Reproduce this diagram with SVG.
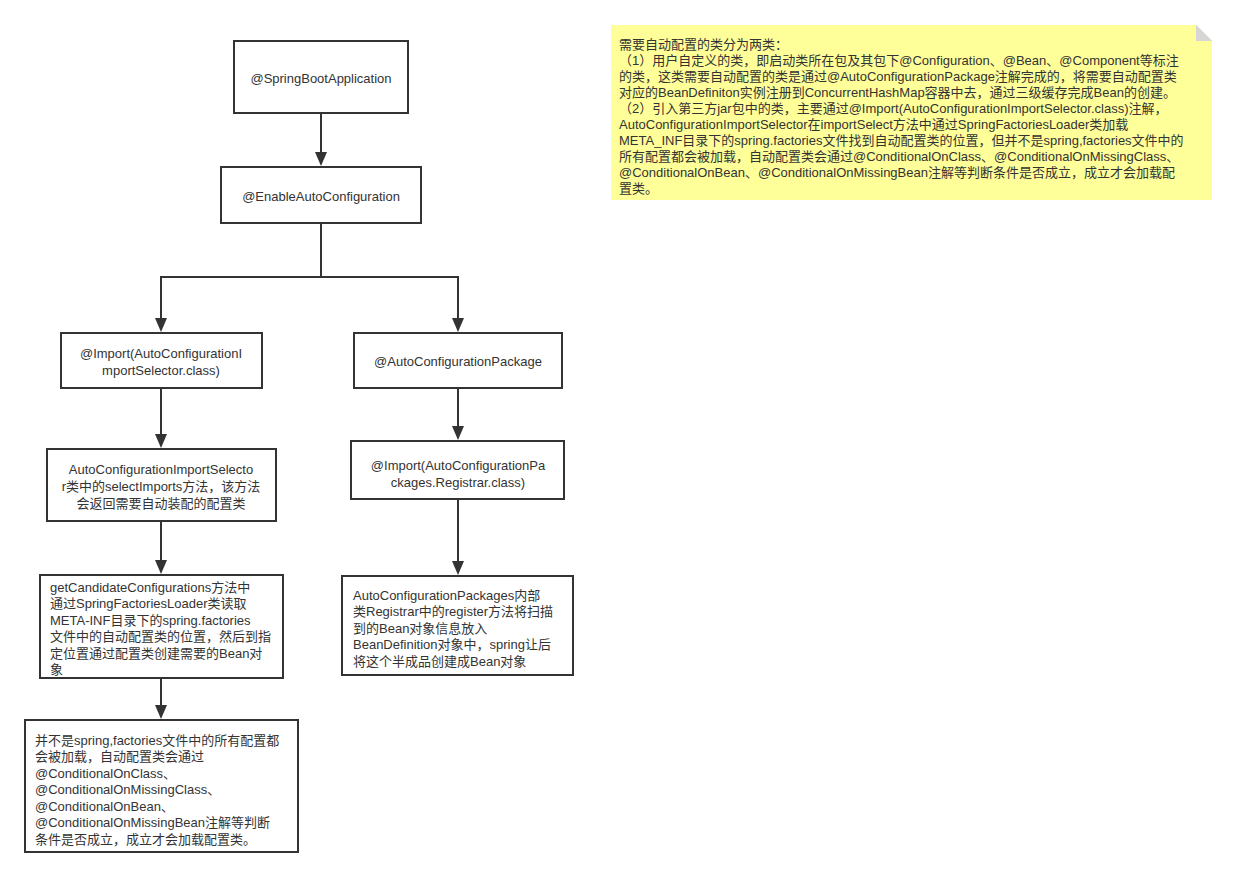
<svg xmlns="http://www.w3.org/2000/svg" width="1237" height="877" viewBox="0 0 1237 877">
<style>
.b{fill:#fff;stroke:#333;stroke-width:2}
text{font-family:"Liberation Sans","Noto Sans CJK SC",sans-serif;font-size:13px;fill:#333}
.c{text-anchor:middle}
.e{fill:none;stroke:#333;stroke-width:2}
</style>
<defs><marker id="a" viewBox="0 0 10 10" refX="9" refY="5" markerWidth="6" markerHeight="6" orient="auto" markerUnits="userSpaceOnUse"><path d="M0,0L10,5L0,10z" fill="#333"/></marker></defs>
<rect width="1237" height="877" fill="#fff"/>
<g id="connectors">
<path class="e" d="M321,113V164" marker-end="url(#a)" style="marker-end:none"/>
<path d="M315,152L321,166L327,152z" fill="#333"/>
<path class="e" d="M321,223V277H161V320M321,277H458V320"/>
<path d="M155,318L161,332L167,318z" fill="#333"/>
<path d="M452,318L458,332L464,318z" fill="#333"/>
<path class="e" d="M161,388V436"/><path d="M155,434L161,448L167,434z" fill="#333"/>
<path class="e" d="M161,521V562"/><path d="M155,560L161,574L167,560z" fill="#333"/>
<path class="e" d="M161,678V707"/><path d="M155,705L161,719L167,705z" fill="#333"/>
<path class="e" d="M458,388V428"/><path d="M452,426L458,440L464,426z" fill="#333"/>
<path class="e" d="M458,499V563"/><path d="M452,561L458,575L464,561z" fill="#333"/>
</g>
<g id="n1"><rect class="b" x="234" y="41" width="174" height="72"/><text class="c" x="321" y="83">@SpringBootApplication</text></g>
<g id="n2"><rect class="b" x="221" y="167" width="200" height="56"/><text class="c" x="321" y="201">@EnableAutoConfiguration</text></g>
<g id="n3"><rect class="b" x="61" y="333" width="201" height="55"/><text class="c" x="161" y="358">@Import(AutoConfigurationI</text><text class="c" x="161" y="375">mportSelector.class)</text></g>
<g id="n4"><rect class="b" x="354" y="333" width="208" height="55"/><text class="c" x="458" y="366">@AutoConfigurationPackage</text></g>
<g id="n5"><rect class="b" x="47" y="449" width="229" height="72"/><text class="c" x="161" y="474">AutoConfigurationImportSelecto</text><text class="c" x="161" y="491">r类中的selectImports方法，该方法</text><text class="c" x="161" y="508">会返回需要自动装配的配置类</text></g>
<g id="n6"><rect class="b" x="40" y="575" width="243" height="103"/>
<text x="50" y="592">getCandidateConfigurations方法中</text><text x="50" y="608">通过SpringFactoriesLoader类读取</text><text x="50" y="625">META-INF目录下的spring.factories</text><text x="50" y="641">文件中的自动配置类的位置，然后到指</text><text x="50" y="658">定位置通过配置类创建需要的Bean对</text><text x="50" y="674">象</text></g>
<g id="n7"><rect class="b" x="25" y="720" width="273" height="132"/>
<text x="35" y="745">并不是spring,factories文件中的所有配置都</text><text x="35" y="761">会被加载，自动配置类会通过</text><text x="35" y="778">@ConditionalOnClass、</text><text x="35" y="794">@ConditionalOnMissingClass、</text><text x="35" y="811">@ConditionalOnBean、</text><text x="35" y="827">@ConditionalOnMissingBean注解等判断</text><text x="35" y="844">条件是否成立，成立才会加载配置类。</text></g>
<g id="n8"><rect class="b" x="351" y="441" width="213" height="58"/><text class="c" x="458" y="470">@Import(AutoConfigurationPa</text><text class="c" x="458" y="487">ckages.Registrar.class)</text></g>
<g id="n9"><rect class="b" x="342" y="576" width="231" height="99"/>
<text x="353" y="600">AutoConfigurationPackages内部</text><text x="353" y="616">类Registrar中的register方法将扫描</text><text x="353" y="633">到的Bean对象信息放入</text><text x="353" y="649">BeanDefinition对象中，spring让后</text><text x="353" y="666">将这个半成品创建成Bean对象</text></g>
<g id="note">
<path d="M611,25H1196L1212,41V200H611z" fill="#ffff99"/>
<path d="M1196,25V41H1212z" fill="#e0e0c0" stroke="none"/><path d="M1196,25L1212,41H1196z" fill="#d6d6d6"/>
<text x="619" y="49">需要自动配置的类分为两类：</text>
<text x="619" y="65">（1）用户自定义的类，即启动类所在包及其包下@Configuration、@Bean、@Component等标注</text>
<text x="619" y="81">的类，这类需要自动配置的类是通过@AutoConfigurationPackage注解完成的，将需要自动配置类</text>
<text x="619" y="97">对应的BeanDefiniton实例注册到ConcurrentHashMap容器中去，通过三级缓存完成Bean的创建。</text>
<text x="619" y="113">（2）引入第三方jar包中的类，主要通过@Import(AutoConfigurationImportSelector.class)注解，</text>
<text x="619" y="129">AutoConfigurationImportSelector在importSelect方法中通过SpringFactoriesLoader类加载</text>
<text x="619" y="145">META_INF目录下的spring.factories文件找到自动配置类的位置，但并不是spring,factories文件中的</text>
<text x="619" y="161">所有配置都会被加载，自动配置类会通过@ConditionalOnClass、@ConditionalOnMissingClass、</text>
<text x="619" y="177">@ConditionalOnBean、@ConditionalOnMissingBean注解等判断条件是否成立，成立才会加载配</text>
<text x="619" y="193">置类。</text>
</g>
</svg>
